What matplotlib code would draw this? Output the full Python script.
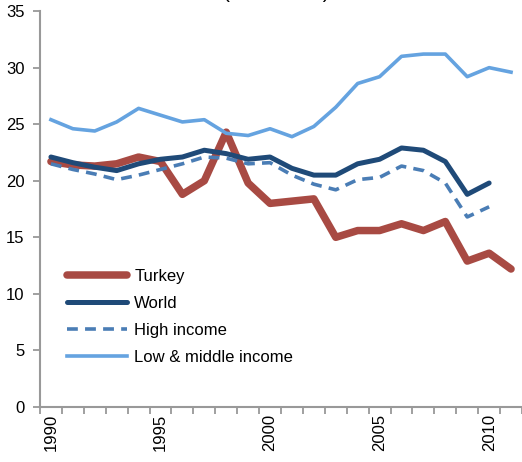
import matplotlib.pyplot as plt
import numpy as np

plt.rcParams['font.family'] = ['Liberation Sans', 'DejaVu Sans']

years = list(range(1990, 2012))
turkey = [21.7, 21.4, 21.3, 21.5, 22.1, 21.7, 18.8, 20.0, 24.3, 19.8, 18.0,
          18.2, 18.4, 15.0, 15.6, 15.6, 16.2, 15.6, 16.4, 12.9, 13.6, 12.2]
world = [22.1, 21.6, 21.2, 20.9, 21.5, 21.9, 22.1, 22.7, 22.4, 21.9, 22.1,
         21.1, 20.5, 20.5, 21.5, 21.9, 22.9, 22.7, 21.7, 18.8, 19.8]
high_income = [21.5, 21.0, 20.6, 20.1, 20.5, 21.0, 21.5, 22.1, 22.0, 21.5, 21.6,
               20.5, 19.7, 19.2, 20.1, 20.3, 21.3, 20.9, 19.8, 16.8, 17.7]
low_middle = [25.4, 24.6, 24.4, 25.2, 26.4, 25.8, 25.2, 25.4, 24.2, 24.0, 24.6,
              23.9, 24.8, 26.5, 28.6, 29.2, 31.0, 31.2, 31.2, 29.2, 30.0, 29.6]
year_labels = ["1990", "1995", "2000", "2005", "2010"]

fig = plt.figure(figsize=(5.22, 4.62), dpi=100)
ax = fig.add_axes([0.0766, 0.119, 0.9234, 0.857])

x = np.arange(len(years))
ax.plot(x, turkey, color="#A84A43", lw=5.4, label="Turkey", solid_capstyle="round")
ax.plot(x[:len(world)], world, color="#1F4A78", lw=3.6, label="World", solid_capstyle="round")
ax.plot(x[:len(high_income)], high_income, color="#4A7DB5", lw=2.6, ls=(0, (3, 2)),
        label="High income")
ax.plot(x, low_middle, color="#65A3E0", lw=2.6, label="Low & middle income")

ax.set_xlim(-0.5, len(years) - 0.5)
ax.set_ylim(0, 35)
ax.set_yticks(range(0, 36, 5))

ax.set_xticks([years.index(int(y)) for y in year_labels])
ax.set_xticklabels(year_labels, rotation=90, fontsize=12)
ax.set_xticks(np.arange(-0.5, len(years)), minor=True)
ax.tick_params(axis="x", which="major", length=0, pad=5)
ax.tick_params(axis="x", which="minor", length=5, width=1.3, color="#999999")
ax.tick_params(axis="y", length=5, width=1.3, color="#999999", labelsize=12, pad=6)

for side in ["top", "right"]:
    ax.spines[side].set_visible(False)
for side in ["left", "bottom"]:
    ax.spines[side].set_color("#999999")
    ax.spines[side].set_linewidth(1.5)

ax.legend(loc="upper left", bbox_to_anchor=(0.043, 0.365), frameon=False,
          fontsize=12, handlelength=3.6, handletextpad=0.42, labelspacing=0.72,
          borderaxespad=0)

# title sits mostly above the canvas, as in the source image
fig.text(0.529, 1.004, "(% of GDP)", ha="center", va="baseline", fontsize=15)

fig.savefig("out.png", dpi=100)
